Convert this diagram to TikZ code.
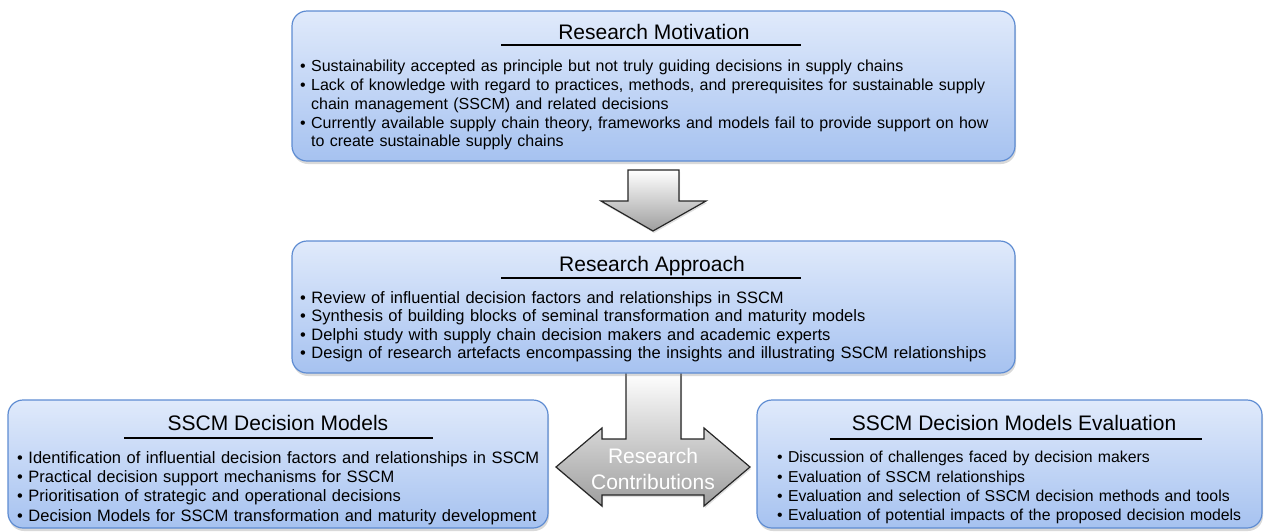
\documentclass[tikz,border=0pt]{standalone}
\usepackage{fontspec}
\setmainfont{Liberation Sans}
\usetikzlibrary{shadows}
\definecolor{paneltop}{HTML}{E0EAFB}
\definecolor{panelbot}{HTML}{A6C2F0}
\definecolor{panelline}{HTML}{5E8CD2}
\tikzset{
  panel/.style={rounded corners=15pt,draw=panelline,line width=1.2pt,top color=paneltop,bottom color=panelbot,
    inner sep=0pt,drop shadow={shadow xshift=1pt,shadow yshift=-3pt,opacity=0.3}},
  heading/.style={font=\fontsize{21}{25}\selectfont,inner sep=0pt,anchor=base},
  rule/.style={line width=1.6pt},
  bigitems/.style={font=\fontsize{16}{18.8}\selectfont,inner sep=0pt,anchor=north west,text width=700pt,align=left},
  smallitems/.style={font=\fontsize{16.5}{19.4}\selectfont,inner sep=0pt,anchor=north west,text width=530pt,align=left},
  blockarrow/.style={draw=black!85,line width=1.2pt,top color=white,bottom color=black!38,
    drop shadow={shadow xshift=1pt,shadow yshift=-2pt,opacity=0.25}}
}
\newcommand{\fullline}[1]{\makebox[692pt][s]{#1}}
\newcommand{\hang}{\phantom{\textbullet\ }}
\begin{document}
\begin{tikzpicture}[x=1pt,y=-1pt]
    \useasboundingbox (0,0) rectangle (1266,531);
    \draw[blockarrow] (628,170)--(679,170)--(679,201)--(706,201)--(653,231)--(601,201)--(628,201)--cycle;
    \draw[blockarrow] (626,372)--(681,372)--(681,439)--(704,439)--(704,428)--(750,467)--(704,506)--(704,495)
        --(602,495)--(602,506)--(556,467)--(602,428)--(602,439)--(626,439)--cycle;
    \node[white,font=\fontsize{21}{26}\selectfont,align=center] (contrib) at (653,469) {Research\\Contributions};
    \node[panel,minimum width=723pt,minimum height=150pt] (motivation) at (653.5,86) {};
    \node[heading] (motivationtitle) at (654,39) {Research Motivation};
    \draw[rule] (501,45)--(801,45);
    \node[bigitems] (motivationitems) at (300,60) {\textbullet\ Sustainability accepted as principle but not truly guiding decisions in supply chains\\
        \fullline{\textbullet\ Lack of knowledge with regard to practices, methods, and prerequisites for sustainable supply}\\
        \hang chain management (SSCM) and related decisions\\
        \fullline{\textbullet\ Currently available supply chain theory, frameworks and models fail to provide support on how}\\
        \hang to create sustainable supply chains};
    \node[panel,minimum width=723pt,minimum height=132pt] (approach) at (653.5,307) {};
    \node[heading] (approachtitle) at (652,271) {Research Approach};
    \draw[rule] (501,278)--(801,278);
    \node[bigitems,font=\fontsize{16.5}{18.5}\selectfont] (approachitems) at (300,291) {\textbullet\ Review of influential decision factors and relationships in SSCM\\
        \textbullet\ Synthesis of building blocks of seminal transformation and maturity models\\
        \textbullet\ Delphi study with supply chain decision makers and academic experts\\
        \textbullet\ Design of research artefacts encompassing the insights and illustrating SSCM relationships};
    \node[panel,minimum width=540pt,minimum height=128pt] (models) at (278,464) {};
    \node[heading] (modelstitle) at (278,430) {SSCM Decision Models};
    \draw[rule] (124,438)--(433,438);
    \node[smallitems] (modelsitems) at (17,451) {\textbullet\ Identification of influential decision factors and relationships in SSCM\\
        \textbullet\ Practical decision support mechanisms for SSCM\\
        \textbullet\ Prioritisation of strategic and operational decisions\\
        \textbullet\ Decision Models for SSCM transformation and maturity development};
    \node[panel,minimum width=505pt,minimum height=128pt] (evaluation) at (1009.5,464) {};
    \node[heading] (evaluationtitle) at (1014,430) {SSCM Decision Models Evaluation};
    \draw[rule] (830,439)--(1202,439);
    \node[smallitems,font=\fontsize{15.8}{19.4}\selectfont] (evaluationitems) at (777,451) {\textbullet\ Discussion of challenges faced by decision makers\\
        \textbullet\ Evaluation of SSCM relationships\\
        \textbullet\ Evaluation and selection of SSCM decision methods and tools\\
        \textbullet\ Evaluation of potential impacts of the proposed decision models};
\end{tikzpicture}
\end{document}
